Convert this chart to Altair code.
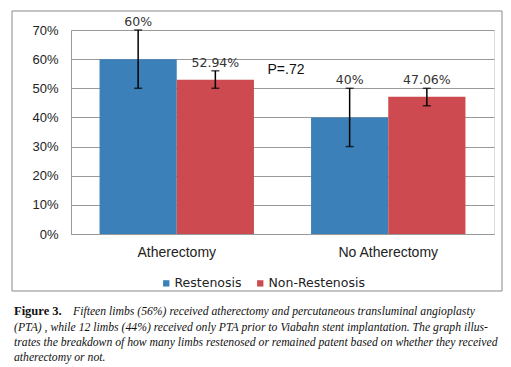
import altair as alt
import pandas as pd

groups = ["Atherectomy", "Atherectomy", "No Atherectomy", "No Atherectomy"]
series = ["Restenosis", "Non-Restenosis", "Restenosis", "Non-Restenosis"]
values = [0.60, 0.5294, 0.40, 0.4706]
err_low = [0.50, 0.50, 0.30, 0.44]
err_high = [0.70, 0.56, 0.50, 0.50]
labels = ["60%", "52.94%", "40%", "47.06%"]
series_order = ["Restenosis", "Non-Restenosis"]
colors = ["#3b80b9", "#cc4a50"]
y_ticks = [0, 0.1, 0.2, 0.3, 0.4, 0.5, 0.6, 0.7]
p_text = "P=.72"
caption_bold = "Figure 3."
caption_lines = [
    "Fifteen limbs (56%) received atherectomy and percutaneous transluminal angioplasty",
    "(PTA) , while 12 limbs (44%) received only PTA prior to Viabahn stent implantation. The graph illus-",
    "trates the breakdown of how many limbs restenosed or remained patent based on whether they received",
    "atherectomy or not.",
]

df = pd.DataFrame(dict(group=groups, series=series, value=values,
                       lo=err_low, hi=err_high, label=labels))
one = pd.DataFrame({"a": [0]})

FONT = "DejaVu Sans"

x = alt.X("group:N", title=None,
          scale=alt.Scale(paddingInner=0.27, paddingOuter=0.135),
          axis=alt.Axis(labelAngle=0, labelFontSize=14, labelPadding=11,
                        ticks=False, domainColor="#999", labelColor="#222"))
xo = alt.XOffset("series:N", sort=series_order,
                 scale=alt.Scale(paddingInner=0, paddingOuter=0))
yax = alt.Axis(format="%", values=y_ticks, title=None, ticks=False,
               labelPadding=13, labelFontSize=13, gridColor="#999",
               domainColor="#999", labelColor="#222", labelOverlap=False)
yscale = alt.Scale(domain=[0, 0.7])

base = alt.Chart(df)

bars = base.mark_bar().encode(
    x=x, xOffset=xo,
    y=alt.Y("value:Q", scale=yscale, axis=yax),
    color=alt.Color("series:N", sort=series_order,
                    scale=alt.Scale(domain=series_order, range=colors),
                    legend=alt.Legend(title=None, orient="none", direction="horizontal",
                                      legendX=89, legendY=247, symbolType="square",
                                      symbolSize=40, symbolStrokeWidth=0,
                                      labelFontSize=12.5, labelFont=FONT, labelColor="#222",
                                      labelOffset=2, columnPadding=12)),
)

rules = base.mark_rule(color="black", strokeWidth=1.5).encode(
    x=x, xOffset=xo, y=alt.Y("lo:Q", scale=yscale, axis=yax), y2="hi:Q")
cap_lo = base.mark_tick(color="black", size=8, thickness=1.5, orient="horizontal").encode(
    x=x, xOffset=xo, y=alt.Y("lo:Q", scale=yscale, axis=yax))
cap_hi = base.mark_tick(color="black", size=8, thickness=1.5, orient="horizontal").encode(
    x=x, xOffset=xo, y=alt.Y("hi:Q", scale=yscale, axis=yax))
txt = base.mark_text(dy=-1, baseline="bottom", fontSize=12.5, font=FONT, color="#333").encode(
    x=x, xOffset=xo, y=alt.Y("hi:Q", scale=yscale, axis=yax), text="label:N")

ptxt = alt.Chart(one).mark_text(fontSize=14, font="Liberation Sans", color="#111",
                                baseline="middle", align="center").encode(
    x=alt.value(215), y=alt.value(40), text=alt.value(p_text))

frame = alt.Chart(one).mark_rect(fill=None, stroke="#888", strokeWidth=1).encode(
    x=alt.value(-59), x2=alt.value(431), y=alt.value(-19), y2=alt.value(261))

cap_layers = [
    alt.Chart(one).mark_text(fontSize=12.5, font="Liberation Serif", fontWeight="bold",
                             align="left", baseline="middle", color="#111").encode(
        x=alt.value(-57), y=alt.value(281), text=alt.value(caption_bold))
]
ys = [281, 296.5, 312, 327]
for i, line in enumerate(caption_lines):
    cap_layers.append(
        alt.Chart(one).mark_text(fontSize=11.7, font="Liberation Serif", fontStyle="italic",
                                 align="left", baseline="middle", color="#111").encode(
            x=alt.value(2 if i == 0 else -57), y=alt.value(ys[i]), text=alt.value(line)))

chart = alt.layer(bars, rules, cap_lo, cap_hi, txt, ptxt, frame, *cap_layers).properties(
    width=423, height=204,
    autosize=alt.AutoSizeParams(type="none"),
    padding={"left": 63, "top": 22, "right": 9, "bottom": 133},
).configure_view(stroke=None).configure_axis(labelFont=FONT).configure(background="white")

chart.save("out.html", embed_options={"renderer": "svg", "actions": False})
